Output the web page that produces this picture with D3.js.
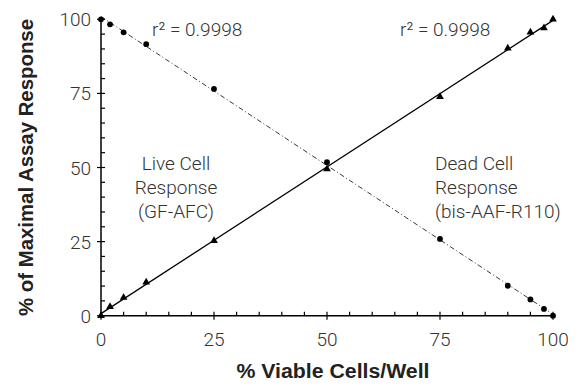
<!DOCTYPE html>
<html>
<head>
<meta charset="utf-8">
<script src="https://cdn.jsdelivr.net/npm/d3@7"></script>
<style>
  html, body { margin: 0; padding: 0; background: #fff; }
  svg { display: block; }
</style>
</head>
<body>
<svg id="chart" width="581" height="386"></svg>
<script>
// ---- data ----
const viableCells = [0, 2, 5, 10, 25, 50, 75, 90, 95, 98, 100];
const liveResponse = [100, 98.3, 95.6, 91.6, 76.5, 51.8, 25.9, 10.1, 5.5, 2.3, 0];   // circles, dash-dot fit
const deadResponse = [0, 3.0, 6.1, 11.3, 25.3, 49.5, 73.9, 90.2, 95.6, 97.1, 100];  // triangles, solid fit
const majorTicks = [0, 25, 50, 75, 100];
const minorTicks = [5, 10, 15, 20, 30, 35, 40, 45, 55, 60, 65, 70, 80, 85, 90, 95];
const r2Labels = ["r\u00B2 = 0.9998", "r\u00B2 = 0.9998"];
const liveLabel = ["Live Cell", "Response", "(GF-AFC)"];
const deadLabel = ["Dead Cell", "Response", "(bis-AAF-R110)"];
const xTitle = "% Viable Cells/Well";
const yTitle = "% of Maximal Assay Response";

const svg = d3.select("#chart");
const x = d3.scaleLinear().domain([0, 100]).range([101, 553]);
const y = d3.scaleLinear().domain([0, 100]).range([315.7, 19.3]);

const lightFont = "'Roboto', 'Open Sans', 'Liberation Sans', sans-serif";
const textColor = "#333";

// least-squares fit lines from data
function fit(xs, ys) {
  const mx = d3.mean(xs), my = d3.mean(ys);
  let sxy = 0, sxx = 0;
  xs.forEach((v, i) => { sxy += (v - mx) * (ys[i] - my); sxx += (v - mx) * (v - mx); });
  const b = sxy / sxx, a = my - b * mx;
  return [[0, a], [100, a + b * 100]];
}
const line = d3.line().x(d => x(d[0])).y(d => y(d[1]));

svg.append("path").datum(fit(viableCells, liveResponse))
  .attr("d", line).attr("fill", "none").attr("stroke", "#222")
  .attr("stroke-width", 0.9).attr("stroke-dasharray", "5,2.5,1,2.5");
svg.append("path").datum(fit(viableCells, deadResponse))
  .attr("d", line).attr("fill", "none").attr("stroke", "#000")
  .attr("stroke-width", 1.3);

// axes
const axes = svg.append("g").attr("stroke", "#000").attr("stroke-width", 1.5);
axes.append("line").attr("x1", x(0)).attr("x2", x(100)).attr("y1", y(0)).attr("y2", y(0));
axes.append("line").attr("x1", x(0)).attr("x2", x(0)).attr("y1", y(0)).attr("y2", y(100));
const tk = svg.append("g").attr("stroke", "#000").attr("stroke-width", 1.2);
majorTicks.forEach(t => {
  tk.append("line").attr("x1", x(t)).attr("x2", x(t)).attr("y1", y(0) - 4).attr("y2", y(0) + 4);
  tk.append("line").attr("y1", y(t)).attr("y2", y(t)).attr("x1", x(0) - 4).attr("x2", x(0) + 4);
});
minorTicks.forEach(t => {
  tk.append("line").attr("x1", x(t)).attr("x2", x(t)).attr("y1", y(0)).attr("y2", y(0) - 4);
  tk.append("line").attr("y1", y(t)).attr("y2", y(t)).attr("x1", x(0)).attr("x2", x(0) + 4);
});

// tick labels
svg.append("g").selectAll("text").data(majorTicks).join("text")
  .attr("x", d => x(d)).attr("y", y(0) + 30)
  .attr("text-anchor", "middle")
  .attr("font-family", lightFont).attr("font-weight", 300).attr("font-size", 19)
  .attr("fill", textColor).text(d => d);
svg.append("g").selectAll("text").data(majorTicks).join("text")
  .attr("x", x(0) - 10).attr("y", d => y(d) + 7)
  .attr("text-anchor", "end")
  .attr("font-family", lightFont).attr("font-weight", 300).attr("font-size", 19)
  .attr("fill", textColor).text(d => d);

// markers
svg.append("g").selectAll("circle").data(viableCells).join("circle")
  .attr("cx", d => x(d)).attr("cy", (d, i) => y(liveResponse[i]))
  .attr("r", 2.9).attr("fill", "#000");
const tri = d3.symbol().type(d3.symbolTriangle).size(26);
svg.append("g").selectAll("path").data(viableCells).join("path")
  .attr("transform", (d, i) => `translate(${x(d)},${y(deadResponse[i])})`)
  .attr("d", tri).attr("fill", "#000");

// r² labels
svg.append("text").attr("x", 152).attr("y", 36)
  .attr("font-family", lightFont).attr("font-weight", 300).attr("font-size", 19)
  .attr("fill", textColor).text(r2Labels[0]);
svg.append("text").attr("x", 400).attr("y", 36)
  .attr("font-family", lightFont).attr("font-weight", 300).attr("font-size", 19)
  .attr("fill", textColor).text(r2Labels[1]);

// annotations
svg.append("g").selectAll("text").data(liveLabel).join("text")
  .attr("x", 176).attr("y", (d, i) => 170 + i * 24)
  .attr("text-anchor", "middle")
  .attr("font-family", lightFont).attr("font-weight", 300).attr("font-size", 19)
  .attr("fill", textColor).text(d => d);
svg.append("g").selectAll("text").data(deadLabel).join("text")
  .attr("x", 435).attr("y", (d, i) => 170 + i * 24)
  .attr("text-anchor", "start")
  .attr("font-family", lightFont).attr("font-weight", 300).attr("font-size", 19)
  .attr("fill", textColor).text(d => d);

// axis titles
const titleFont = "'Liberation Sans', Arial, sans-serif";
svg.append("text").attr("x", 333).attr("y", 378)
  .attr("text-anchor", "middle")
  .attr("font-family", titleFont).attr("font-weight", 700).attr("font-size", 20)
  .attr("textLength", 193).attr("lengthAdjust", "spacingAndGlyphs")
  .attr("fill", "#222").text(xTitle);
svg.append("text")
  .attr("transform", `translate(33,167.5) rotate(-90)`)
  .attr("text-anchor", "middle")
  .attr("font-family", titleFont).attr("font-weight", 700).attr("font-size", 20)
  .attr("textLength", 297).attr("lengthAdjust", "spacingAndGlyphs")
  .attr("fill", "#222").text(yTitle);
</script>
</body>
</html>
